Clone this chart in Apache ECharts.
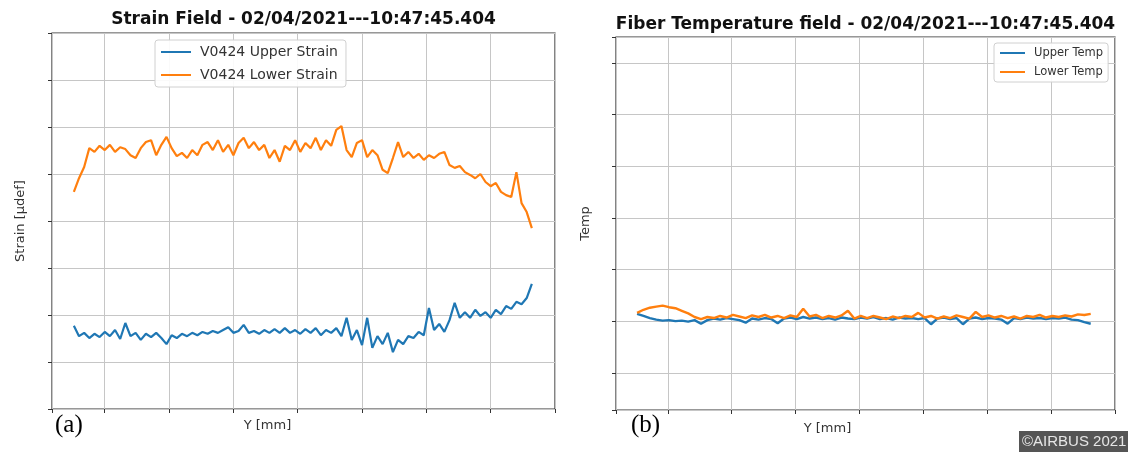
<!DOCTYPE html>
<html>
<head>
<meta charset="utf-8">
<script src="https://cdn.jsdelivr.net/npm/echarts@6/dist/echarts.min.js"></script>
<style>
html,body{margin:0;padding:0;background:#fff;}
#c{width:1128px;height:452px;}
</style>
</head>
<body>
<div id="c"></div>
<script>
// ---- Strain chart (a) ----
const strainPos = [0.52,0.60,0.68,0.76,0.84,0.92,1.00,1.08,1.16,1.24,
1.32,1.40,1.48,1.56,1.64,1.72,1.80,1.88,1.96,2.04,
2.12,2.20,2.28,2.36,2.44,2.52,2.60,2.68,2.76,2.84,
2.92,3.00,3.08,3.16,3.24,3.32,3.40,3.48,3.56,3.64,
3.72,3.80,3.88,3.96,4.04,4.12,4.20,4.28,4.36,4.44,
4.52,4.60,4.68,4.76,4.84,4.92,5.00,5.08,5.16,5.24,
5.32,5.40,5.48,5.56,5.64,5.72,5.80,5.88,5.96,6.04,
6.12,6.20,6.28,6.36,6.44,6.52,6.60,6.68,6.76,6.84,
6.92,7.00,7.08,7.16,7.24,7.32,7.40,7.48,7.56,7.64];
const upperStrain = [1.77,1.55,1.62,1.51,1.60,1.53,1.64,1.55,1.68,1.49,
1.83,1.55,1.62,1.47,1.60,1.53,1.62,1.51,1.38,1.57,
1.51,1.60,1.55,1.62,1.57,1.64,1.60,1.66,1.62,1.68,
1.74,1.62,1.66,1.79,1.62,1.66,1.60,1.68,1.62,1.70,
1.62,1.72,1.62,1.68,1.60,1.70,1.62,1.72,1.57,1.68,
1.62,1.72,1.55,1.94,1.47,1.68,1.36,1.94,1.30,1.55,
1.38,1.62,1.21,1.47,1.38,1.55,1.51,1.64,1.57,2.15,
1.68,1.81,1.64,1.89,2.26,1.94,2.06,1.94,2.11,1.98,
2.06,1.94,2.11,2.02,2.19,2.13,2.28,2.23,2.36,2.66];
const lowerStrain = [4.62,4.91,5.15,5.55,5.47,5.60,5.51,5.62,5.47,5.57,
5.53,5.40,5.34,5.55,5.68,5.72,5.40,5.62,5.79,5.55,
5.38,5.45,5.34,5.51,5.40,5.62,5.68,5.51,5.72,5.47,
5.62,5.40,5.66,5.77,5.55,5.68,5.51,5.62,5.34,5.51,
5.26,5.60,5.51,5.72,5.47,5.66,5.55,5.77,5.51,5.72,
5.60,5.94,6.02,5.51,5.36,5.66,5.72,5.36,5.51,5.40,
5.09,5.02,5.34,5.68,5.36,5.47,5.34,5.43,5.30,5.40,
5.34,5.43,5.47,5.19,5.13,5.17,5.04,4.98,4.91,5.00,
4.83,4.74,4.81,4.62,4.55,4.51,5.04,4.38,4.19,3.85];

// ---- Temperature chart (b) ----
const tempPos = [0.52,0.62,0.72,0.82,0.92,1.02,1.12,1.22,1.32,1.42,
1.52,1.62,1.72,1.82,1.92,2.02,2.12,2.22,2.32,2.42,
2.52,2.62,2.72,2.82,2.92,3.02,3.12,3.22,3.32,3.42,
3.52,3.62,3.72,3.82,3.92,4.02,4.12,4.22,4.32,4.42,
4.52,4.62,4.72,4.82,4.92,5.02,5.12,5.22,5.32,5.42,
5.52,5.62,5.72,5.82,5.92,6.02,6.12,6.22,6.32,6.42,
6.52,6.62,6.72,6.82,6.92,7.02,7.12,7.22,7.32,7.42,
7.52,7.62];
const upperTemp = [2.14,2.10,2.06,2.03,2.01,2.02,2.00,2.01,1.99,2.02,
1.95,2.02,2.05,2.03,2.06,2.04,2.02,1.97,2.05,2.03,
2.06,2.04,1.96,2.05,2.07,2.04,2.08,2.05,2.07,2.04,
2.06,2.03,2.07,2.05,2.04,2.07,2.05,2.08,2.04,2.06,
2.03,2.07,2.05,2.06,2.04,2.06,1.94,2.05,2.07,2.04,
2.06,1.94,2.05,2.07,2.04,2.06,2.05,2.03,1.95,2.06,
2.04,2.07,2.05,2.06,2.04,2.06,2.05,2.07,2.03,2.02,
1.98,1.95];
const lowerTemp = [2.16,2.22,2.26,2.28,2.30,2.27,2.25,2.20,2.15,2.08,
2.04,2.08,2.06,2.10,2.07,2.12,2.09,2.06,2.11,2.08,
2.12,2.07,2.10,2.06,2.11,2.08,2.24,2.09,2.12,2.06,
2.10,2.07,2.11,2.20,2.05,2.10,2.06,2.10,2.07,2.04,
2.09,2.06,2.10,2.08,2.16,2.07,2.10,2.05,2.09,2.06,
2.11,2.08,2.05,2.18,2.08,2.11,2.07,2.10,2.06,2.09,
2.05,2.10,2.08,2.12,2.07,2.10,2.08,2.11,2.09,2.13,
2.12,2.14];

const seriesNames = ['V0424 Upper Strain','V0424 Lower Strain','Upper Temp','Lower Temp'];
const titles = ['Strain Field - 02/04/2021---10:47:45.404','Fiber Temperature field - 02/04/2021---10:47:45.404'];

const BLUE = '#1f77b4', ORANGE = '#ff7f0e';
const FONT = 'DejaVu Sans';
const pair = (xs, ys) => xs.map((x, i) => [x, ys[i]]);

const chart = echarts.init(document.getElementById('c'), null, {renderer:'canvas'});

function xAx(gridIndex, min, padR, gap){
  return {
    type:'value', gridIndex, min, max:8, minInterval:1, maxInterval:1, splitNumber:8,
    name:'Y [mm]', nameLocation:'middle', nameGap:gap,
    nameTextStyle:{fontFamily:FONT, fontSize:13, color:'#333', padding:[0,padR,0,0]},
    axisLine:{show:false}, axisLabel:{show:false},
    axisTick:{show:true, length:4, lineStyle:{color:'#333', width:1}},
    splitLine:{show:true, lineStyle:{color:'#c6c6c6', width:1}}
  };
}

const option = {
  animation:false,
  backgroundColor:'#fff',
  title:[
    {text:titles[0], left:303.5, top:11, textAlign:'center', padding:0,
     textStyle:{fontFamily:FONT, fontSize:17, fontWeight:'bold', color:'#111'}},
    {text:titles[1], left:865.5, top:16, textAlign:'center', padding:0,
     textStyle:{fontFamily:FONT, fontSize:17, fontWeight:'bold', color:'#111'}},
    {text:'(a)', left:55, top:413, padding:0,
     textStyle:{fontFamily:'Liberation Serif', fontSize:25, fontWeight:'normal', color:'#000'}},
    {text:'(b)', left:631, top:413, padding:0,
     textStyle:{fontFamily:'Liberation Serif', fontSize:25, fontWeight:'normal', color:'#000'}},
    {text:'©AIRBUS 2021', left:1019, top:431, padding:[3,6,4,3], backgroundColor:'#555555',
     textStyle:{fontFamily:'Liberation Sans', fontSize:15, fontWeight:'normal', color:'#e6e6e6'}}
  ],
  legend:[
    {data:[seriesNames[0], seriesNames[1]], orient:'vertical', left:155, top:40,
     padding:[5,8,5,5], itemGap:9, itemWidth:30, itemHeight:14,
     itemStyle:{opacity:0}, lineStyle:{width:2},
     backgroundColor:'rgba(255,255,255,0.9)', borderColor:'#d0d0d0', borderWidth:1, borderRadius:3,
     textStyle:{fontFamily:FONT, fontSize:14, color:'#333', padding:[0,0,0,4]}},
    {data:[seriesNames[2], seriesNames[3]], orient:'vertical', left:994, top:43,
     padding:[4,5,4,5], itemGap:7, itemWidth:25, itemHeight:12,
     itemStyle:{opacity:0}, lineStyle:{width:2},
     backgroundColor:'rgba(255,255,255,0.9)', borderColor:'#d0d0d0', borderWidth:1, borderRadius:3,
     textStyle:{fontFamily:FONT, fontSize:11.5, color:'#333', padding:[0,0,0,4]}}
  ],
  grid:[
    {left:52, top:33, width:503, height:376, show:true, borderColor:'#333', borderWidth:1.2, backgroundColor:'transparent'},
    {left:616, top:37, width:499, height:373, show:true, borderColor:'#333', borderWidth:1.2, backgroundColor:'transparent'}
  ],
  xAxis:[ xAx(0, 0.18, 72, 10), xAx(1, 0.19, 76, 12) ],
  yAxis:[
    {type:'value', gridIndex:0, min:0, max:8, interval:1,
     name:'Strain [µdef]', nameLocation:'middle', nameGap:25,
     nameTextStyle:{fontFamily:FONT, fontSize:13, color:'#333'},
     axisLine:{show:false}, axisLabel:{show:false},
     axisTick:{show:true, length:4, lineStyle:{color:'#333'}},
     splitLine:{show:true, lineStyle:{color:'#c6c6c6', width:1}}},
    {type:'value', gridIndex:1, min:0.28, max:7.5, minInterval:1, maxInterval:1, splitNumber:7,
     name:'Temp', nameLocation:'middle', nameGap:24,
     nameTextStyle:{fontFamily:FONT, fontSize:13, color:'#333'},
     axisLine:{show:false}, axisLabel:{show:false},
     axisTick:{show:true, length:4, lineStyle:{color:'#333'}},
     splitLine:{show:true, lineStyle:{color:'#c6c6c6', width:1}}}
  ],
  series:[
    {name:seriesNames[0], type:'line', xAxisIndex:0, yAxisIndex:0, data:pair(strainPos, upperStrain),
     symbol:'none', showSymbol:false, color:BLUE, lineStyle:{color:BLUE, width:2.2}},
    {name:seriesNames[1], type:'line', xAxisIndex:0, yAxisIndex:0, data:pair(strainPos, lowerStrain),
     symbol:'none', showSymbol:false, color:ORANGE, lineStyle:{color:ORANGE, width:2.2}},
    {name:seriesNames[2], type:'line', xAxisIndex:1, yAxisIndex:1, data:pair(tempPos, upperTemp),
     symbol:'none', showSymbol:false, color:BLUE, lineStyle:{color:BLUE, width:2.4}},
    {name:seriesNames[3], type:'line', xAxisIndex:1, yAxisIndex:1, data:pair(tempPos, lowerTemp),
     symbol:'none', showSymbol:false, color:ORANGE, lineStyle:{color:ORANGE, width:2.4}}
  ]
};
chart.setOption(option);
</script>
</body>
</html>
